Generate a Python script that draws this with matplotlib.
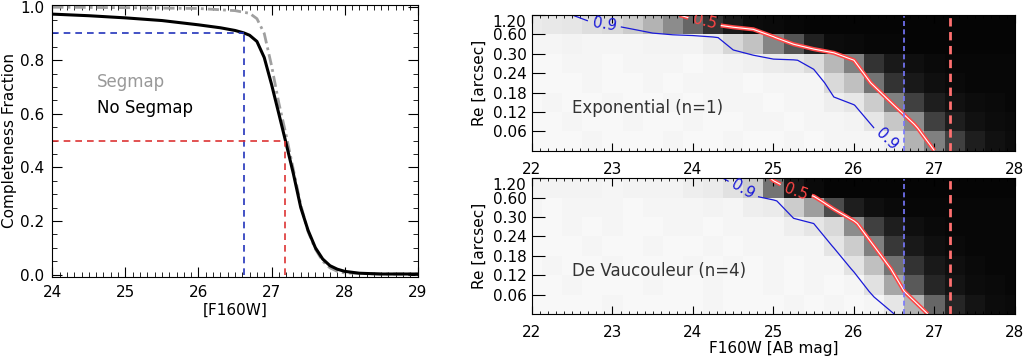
import numpy as np
import matplotlib
matplotlib.use("Agg")
import matplotlib.pyplot as plt
import matplotlib.patheffects as pe
from matplotlib.ticker import MultipleLocator

plt.rcParams['font.family'] = ['DejaVu Sans']

# ---- left panel: completeness curves ----
mag_noseg = [24.0, 24.5, 25.0, 25.5, 26.0, 26.3, 26.5, 26.62, 26.7, 26.8, 26.9, 27.0,
             27.1, 27.19, 27.3, 27.4, 27.5, 27.6, 27.7, 27.8, 27.9, 28.0, 28.2, 28.5, 29.0]
frac_noseg = [0.972, 0.966, 0.958, 0.948, 0.932, 0.921, 0.911, 0.902, 0.893, 0.87, 0.81, 0.71,
              0.60, 0.50, 0.375, 0.25, 0.165, 0.10, 0.058, 0.033, 0.02, 0.012, 0.005, 0.002, 0.002]
mag_seg = [24.0, 25.0, 26.0, 26.5, 26.7, 26.8, 26.9, 27.0, 27.1, 27.2, 27.3, 27.4,
           27.5, 27.6, 27.7, 27.8, 27.9, 28.0, 28.5, 29.0]
frac_seg = [0.998, 0.996, 0.993, 0.985, 0.975, 0.955, 0.90, 0.78, 0.64, 0.52, 0.39, 0.26,
            0.16, 0.095, 0.05, 0.025, 0.012, 0.006, 0.002, 0.002]
mag90 = 26.62
mag50 = 27.19

# ---- right panels: completeness grid (rows top -> bottom) ----
mag_grid = [22.0, 22.25, 22.5, 22.75, 23.0, 23.25, 23.5, 23.75, 24.0, 24.25, 24.5, 24.75, 25.0,
            25.25, 25.5, 25.75, 26.0, 26.25, 26.5, 26.75, 27.0, 27.25, 27.5, 27.75, 28.0]
re_labels = ['1.20', '0.60', '0.30', '0.24', '0.18', '0.12', '0.06']

exp_grid = [
    [0.92, 0.91, 0.90, 0.87, 0.85, 0.80, 0.70, 0.55, 0.40, 0.20, 0.10, 0.05, 0.04, 0.03, 0.02, 0.02, 0.02, 0.02, 0.02, 0.02, 0.02, 0.02, 0.02, 0.02, 0.02],
    [0.96, 0.96, 0.95, 0.96, 0.96, 0.96, 0.95, 0.95, 0.95, 0.92, 0.84, 0.76, 0.52, 0.33, 0.13, 0.05, 0.04, 0.03, 0.03, 0.02, 0.02, 0.02, 0.02, 0.02, 0.02],
    [0.97, 0.97, 0.96, 0.96, 0.97, 0.96, 0.96, 0.96, 0.97, 0.96, 0.95, 0.94, 0.92, 0.91, 0.86, 0.72, 0.50, 0.20, 0.10, 0.06, 0.04, 0.03, 0.03, 0.03, 0.03],
    [0.97, 0.97, 0.97, 0.96, 0.97, 0.97, 0.96, 0.97, 0.96, 0.96, 0.96, 0.97, 0.96, 0.96, 0.96, 0.85, 0.75, 0.45, 0.20, 0.10, 0.06, 0.04, 0.03, 0.03, 0.03],
    [0.97, 0.96, 0.97, 0.97, 0.96, 0.97, 0.97, 0.96, 0.97, 0.96, 0.96, 0.96, 0.97, 0.96, 0.96, 0.93, 0.905, 0.80, 0.50, 0.25, 0.12, 0.07, 0.05, 0.04, 0.03],
    [0.97, 0.97, 0.96, 0.97, 0.97, 0.96, 0.97, 0.97, 0.96, 0.97, 0.97, 0.96, 0.96, 0.97, 0.96, 0.96, 0.95, 0.90, 0.78, 0.55, 0.25, 0.12, 0.07, 0.05, 0.04],
    [0.97, 0.97, 0.97, 0.96, 0.97, 0.97, 0.97, 0.96, 0.97, 0.97, 0.96, 0.97, 0.97, 0.96, 0.97, 0.96, 0.96, 0.96, 0.93, 0.70, 0.50, 0.25, 0.12, 0.07, 0.05],
]
dev_grid = [
    [0.95, 0.95, 0.95, 0.95, 0.96, 0.95, 0.95, 0.95, 0.93, 0.92, 0.88, 0.80, 0.45, 0.10, 0.04, 0.02, 0.02, 0.02, 0.02, 0.02, 0.02, 0.02, 0.02, 0.02, 0.02],
    [0.96, 0.97, 0.96, 0.96, 0.96, 0.97, 0.96, 0.96, 0.96, 0.95, 0.96, 0.93, 0.92, 0.80, 0.62, 0.30, 0.12, 0.06, 0.04, 0.03, 0.03, 0.03, 0.03, 0.03, 0.03],
    [0.97, 0.97, 0.96, 0.97, 0.96, 0.97, 0.97, 0.96, 0.96, 0.97, 0.96, 0.96, 0.96, 0.93, 0.90, 0.85, 0.55, 0.25, 0.12, 0.06, 0.04, 0.03, 0.03, 0.03, 0.03],
    [0.97, 0.97, 0.97, 0.96, 0.97, 0.97, 0.96, 0.97, 0.97, 0.96, 0.97, 0.96, 0.96, 0.96, 0.96, 0.895, 0.80, 0.50, 0.22, 0.10, 0.06, 0.04, 0.03, 0.03, 0.03],
    [0.97, 0.96, 0.97, 0.97, 0.96, 0.97, 0.97, 0.97, 0.96, 0.97, 0.96, 0.97, 0.96, 0.97, 0.96, 0.96, 0.89, 0.75, 0.45, 0.20, 0.10, 0.06, 0.04, 0.03, 0.03],
    [0.97, 0.97, 0.96, 0.97, 0.97, 0.97, 0.96, 0.97, 0.97, 0.96, 0.97, 0.97, 0.96, 0.97, 0.96, 0.97, 0.96, 0.88, 0.65, 0.35, 0.15, 0.08, 0.05, 0.04, 0.03],
    [0.97, 0.97, 0.97, 0.97, 0.96, 0.97, 0.97, 0.97, 0.97, 0.96, 0.97, 0.97, 0.97, 0.96, 0.97, 0.96, 0.97, 0.96, 0.90, 0.70, 0.40, 0.15, 0.08, 0.05, 0.04],
]

fig = plt.figure(figsize=(10.28, 3.6), dpi=100)

# ---------------- left panel ----------------
ax = fig.add_axes([0.0509, 0.2314, 0.3554, 0.7547])
ax.plot(mag_seg, frac_seg, color='#a0a0a0', lw=2.0, ls=(0, (4, 1.5, 1, 1.5)))
ax.plot(mag_noseg, frac_noseg, color='black', lw=2.2)
ax.plot([24, mag90], [0.9, 0.9], color='#2233bb', lw=1.2, ls=(0, (4, 3)))
ax.plot([mag90, mag90], [0, 0.9], color='#2233bb', lw=1.2, ls=(0, (4, 3)))
ax.plot([24, mag50], [0.5, 0.5], color='#dd3333', lw=1.2, ls=(0, (4, 3)))
ax.plot([mag50, mag50], [0, 0.5], color='#dd3333', lw=1.2, ls=(0, (4, 3)))
ax.text(24.61, 0.72, 'Segmap', color='#999999', fontsize=12, va='center')
ax.text(24.61, 0.62, 'No Segmap', color='black', fontsize=12, va='center')
ax.set_xlim(24, 29)
ax.set_ylim(-0.008, 1.006)
ax.xaxis.set_major_locator(MultipleLocator(1))
ax.xaxis.set_minor_locator(MultipleLocator(0.1))
ax.yaxis.set_major_locator(MultipleLocator(0.2))
ax.yaxis.set_minor_locator(MultipleLocator(0.05))
ax.yaxis.set_major_formatter(matplotlib.ticker.FormatStrFormatter('%.1f'))
ax.tick_params(which='both', direction='in', top=True, right=True, labelsize=11, pad=6)
ax.tick_params(which='major', length=7)
ax.tick_params(which='minor', length=3.5)
ax.set_xlabel('[F160W]', fontsize=11, labelpad=2)
ax.set_ylabel('Completeness Fraction', fontsize=11, labelpad=2)

# ---------------- right panels ----------------
x_edges = [m - 0.125 for m in mag_grid] + [mag_grid[-1] + 0.125]
y_edges = np.arange(8)
y_cont = np.linspace(0, 7, 7)


def grid_panel(rect, grid, label, lab90, lab50, show_xlabel):
    a = fig.add_axes(rect)
    z = np.array(grid)[::-1]
    a.pcolormesh(x_edges, y_edges, z, cmap='gray', vmin=0, vmax=1, shading='flat')
    c9 = a.contour(mag_grid, y_cont, z, levels=[0.9], colors='#1a1ad8', linewidths=0.9)
    a.clabel(c9, fmt='%.1f', fontsize=11, inline=True, inline_spacing=4, manual=lab90)
    c5 = a.contour(mag_grid, y_cont, z, levels=[0.5], colors='white', linewidths=0.8)
    c5.set_path_effects([pe.Stroke(linewidth=3.0, foreground='#ff4545'), pe.Normal()])
    txt = a.clabel(c5, fmt='%.1f', fontsize=11, inline=True, inline_spacing=4, manual=lab50)
    for t in txt:
        t.set_color('#ff4545')
    a.axvline(mag90, color='#7878ff', lw=1.2, ls=(0, (3, 2)))
    a.axvline(mag50, color='#ff7070', lw=2.0, ls=(0, (3, 2)))
    a.text(22.5, 2.2, label, fontsize=12, color='#333333', va='center')
    a.set_xlim(22, 28)
    a.set_ylim(0, 7)
    a.set_yticks(range(7, 0, -1))
    a.set_yticklabels(re_labels)
    a.get_yticklabels()[0].set_va('top')
    a.xaxis.set_major_locator(MultipleLocator(1))
    a.xaxis.set_minor_locator(MultipleLocator(0.1))
    a.tick_params(axis='x', which='both', direction='in', top=True, labelsize=11, pad=8)
    a.tick_params(axis='x', which='major', length=6)
    a.tick_params(axis='x', which='minor', length=2.5)
    a.tick_params(axis='y', direction='in', length=9, labelsize=11, pad=4)
    a.set_ylabel('Re [arcsec]', fontsize=11, labelpad=4)
    if show_xlabel:
        a.set_xlabel('F160W [AB mag]', fontsize=11, labelpad=1)
    return a


grid_panel([0.5175, 0.5814, 0.4698, 0.3769], exp_grid, 'Exponential (n=1)',
           [(22.9, 6.6), (26.45, 0.8)], [(24.15, 6.75)], False)
grid_panel([0.5175, 0.1278, 0.4698, 0.3769], dev_grid, 'De Vaucouleur (n=4)',
           [(24.62, 6.4)], [(25.3, 6.7)], True)

fig.savefig('out.png', dpi=100)
